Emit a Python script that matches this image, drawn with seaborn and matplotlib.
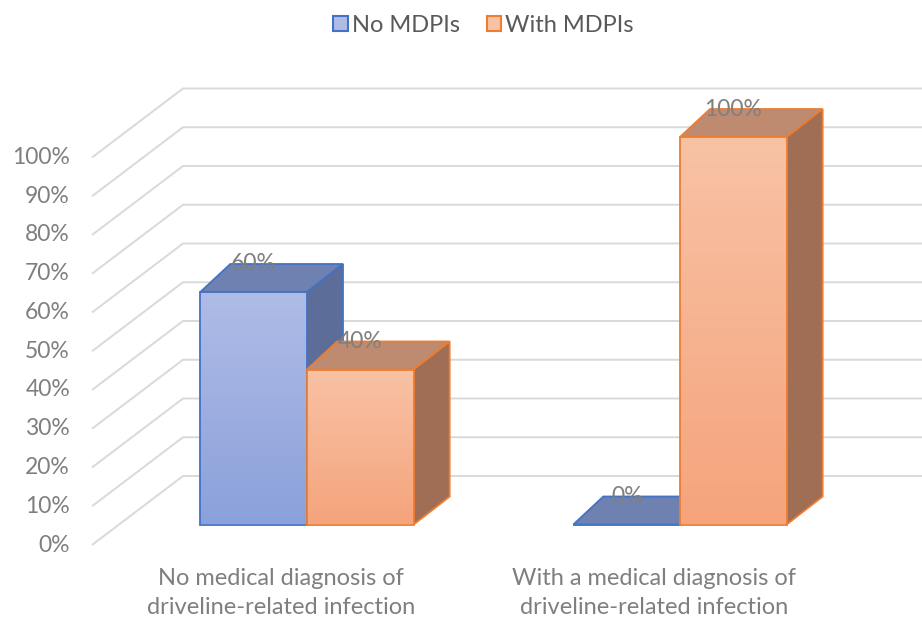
import numpy as np
import pandas as pd
import matplotlib
matplotlib.use("Agg")
import matplotlib.pyplot as plt
import seaborn as sns
from matplotlib.patches import Polygon, Patch

# ---------------- data ----------------
categories = ["No medical diagnosis of\ndriveline-related infection",
              "With a medical diagnosis of\ndriveline-related infection"]
series = ["No MDPIs", "With MDPIs"]
no_mdpis = [0.60, 0.00]
with_mdpis = [0.40, 1.00]
tick_values = [0.0, 0.1, 0.2, 0.3, 0.4, 0.5, 0.6, 0.7, 0.8, 0.9, 1.0]
tick_labels = ["0%", "10%", "20%", "30%", "40%", "50%", "60%",
               "70%", "80%", "90%", "100%"]

df = pd.DataFrame({
    "category": categories * 2,
    "series": [series[0]] * len(categories) + [series[1]] * len(categories),
    "value": no_mdpis + with_mdpis,
})

# ---------------- style ----------------
edge_colors = {"No MDPIs": "#4472c4", "With MDPIs": "#ed7d31"}
front_top = {"No MDPIs": "#afbce6", "With MDPIs": "#f8c2a5"}
front_bottom = {"No MDPIs": "#8ba1db", "With MDPIs": "#f5a47c"}
top_face = {"No MDPIs": "#6e81b0", "With MDPIs": "#be8a70"}
side_face = {"No MDPIs": "#5b6d98", "With MDPIs": "#a06e55"}
grid_color = "#d9d9d9"
text_color = "#7f7f7f"

sns.set_theme(style="white")
plt.rcParams["font.family"] = ["Lato", "DejaVu Sans"]

W, H, DPI = 922, 621, 100
fig = plt.figure(figsize=(W / DPI, H / DPI), dpi=DPI)
ax = fig.add_axes([0, 0, 1, 1])

# pixel geometry of the pseudo-3D projection
SX = 373.0      # px per category step
SY = 387.5      # px per 100 %
X0 = 307.0      # px of first category centre
Y0 = 96.5       # px (from bottom) of 0 % at bar front
def px_x(d):
    return d / SX
def px_y(d):
    return d / SY

sns.barplot(data=df, x="category", y="value", hue="series",
            order=categories, hue_order=series,
            palette=[front_bottom[s] for s in series],
            width=0.572, saturation=1, legend=False, ax=ax)

# depth offsets for the bar boxes
dxl, dxr, dz = px_x(30), px_x(36), px_y(28)

bars = []
for s, cont in zip(series, ax.containers):
    for ci, bar in enumerate(cont):
        bars.append((ci, series.index(s), s, bar))
bars.sort(key=lambda t: (t[0], t[1]))

grad = np.linspace(0, 1, 256).reshape(-1, 1)
for k, (ci, si, s, bar) in enumerate(bars):
    z = 2 + k
    x0 = bar.get_x()
    w = bar.get_width()
    h = bar.get_height()
    ec = edge_colors[s]
    # top face
    top = Polygon([(x0, h), (x0 + w, h), (x0 + w + dxr, h + dz), (x0 + dxl, h + dz)],
                  closed=True, facecolor=top_face[s], edgecolor=ec, lw=1.3, zorder=z)
    ax.add_patch(top)
    # side face
    if h > 0:
        side = Polygon([(x0 + w, 0), (x0 + w + dxr, dz), (x0 + w + dxr, h + dz), (x0 + w, h)],
                       closed=True, facecolor=side_face[s], edgecolor=ec, lw=1.3, zorder=z)
        ax.add_patch(side)
        cmap = matplotlib.colors.LinearSegmentedColormap.from_list(
            "g", [front_bottom[s], front_top[s]])
        im = ax.imshow(grad, extent=(x0, x0 + w, 0, h), origin="lower",
                       cmap=cmap, aspect="auto", zorder=z + 0.1, interpolation="bilinear")
        im.set_clip_path(bar)
    bar.set_facecolor("none")
    bar.set_edgecolor(ec)
    bar.set_linewidth(1.3)
    bar.set_zorder(z + 0.2)
    # value label
    ax.text(x0 + w / 2, h + dz, f"{h:.0%}", ha="center", va="center",
            fontsize=16.5, color=text_color, zorder=20)

# gridlines: side wall diagonal + back wall horizontal
gx0, gx1 = px_x(92 - X0), px_x(183 - X0)
f_off, b_off = px_y(20.5), px_y(48.5)
xmax = px_x(W - X0)
for v, lab in zip(tick_values, tick_labels):
    ax.plot([gx0, gx1, xmax], [v - f_off, v + b_off, v + b_off],
            color=grid_color, lw=1.4, zorder=0.5, solid_capstyle="butt")
    ax.text(gx0 - px_x(22), v - f_off, lab, ha="right", va="center",
            fontsize=16.5, color=text_color)

# category labels
for ci, cat in enumerate(categories):
    ax.text(ci - px_x(26), px_y(524.5 - 593), cat, ha="center", va="center",
            fontsize=17, color=text_color, linespacing=1.45)

ax.set_xlim(-X0 / SX, (W - X0) / SX)
ax.set_ylim(-Y0 / SY, (H - Y0) / SY)
ax.axis("off")

handles = [Patch(facecolor=front_top[s], edgecolor=edge_colors[s], lw=1.5, label=s)
           for s in series]
fig.legend(handles=handles, loc="center", bbox_to_anchor=(0.5244, 1 - 25 / H),
           ncol=2, frameon=False, fontsize=17, handlelength=0.6, handleheight=0.6,
           handletextpad=0.17, columnspacing=1.15, labelcolor="#595959")

fig.savefig("out.png", dpi=DPI)
